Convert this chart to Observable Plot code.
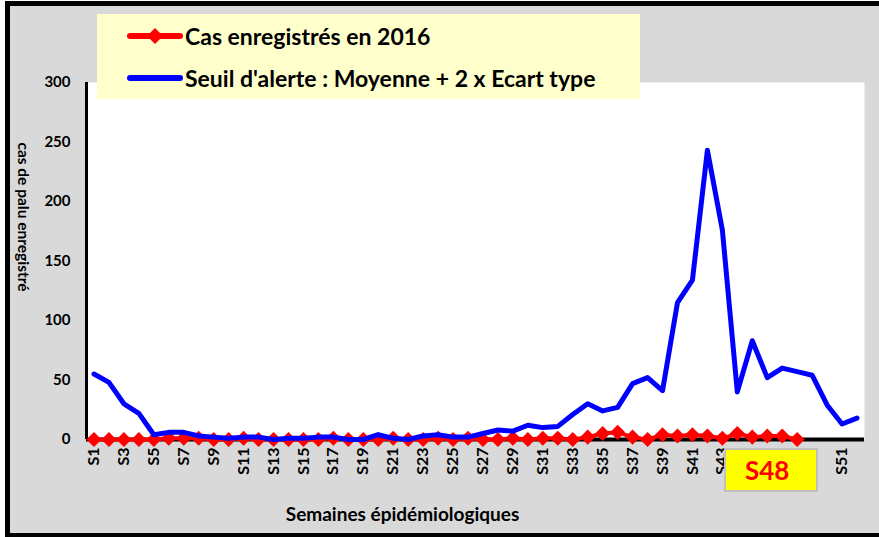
<!DOCTYPE html>
<html>
<head>
<meta charset="utf-8">
<script src="https://cdn.jsdelivr.net/npm/d3@7"></script>
<script src="https://cdn.jsdelivr.net/npm/@observablehq/plot@0.6"></script>
<style>
  html, body { margin: 0; padding: 0; background: #ffffff; overflow: hidden; }
  #wrap { position: relative; width: 879px; height: 537px; font-family: Lato, "Open Sans", sans-serif; }
  #wrap svg text { font-weight: bold; }
  .bd { position: absolute; background: #000; }
  #legend { position: absolute; left: 97px; top: 14px; width: 543px; height: 85px; background: #ffffcc; }
  #legend .item { position: absolute; left: 30px; height: 30px; display: flex; align-items: center; font-weight: bold; font-size: 23px; color: #000; white-space: nowrap; }
  #legend svg { margin-right: 2px; }
  #s48 { position: absolute; left: 724px; top: 448px; width: 71px; height: 40px; padding-left: 19px; background: #ffff00; border: 2px solid #bfbfbf; color: #ff0000; font-weight: bold; font-size: 26px; display: flex; align-items: center; justify-content: flex-start; box-sizing: content-box; }
</style>
</head>
<body>
<div id="wrap"></div>
<script>
// ---- data ----
const weeks = ["S1","S2","S3","S4","S5","S6","S7","S8","S9","S10","S11","S12","S13","S14","S15","S16","S17","S18","S19","S20","S21","S22","S23","S24","S25","S26","S27","S28","S29","S30","S31","S32","S33","S34","S35","S36","S37","S38","S39","S40","S41","S42","S43","S44","S45","S46","S47","S48","S49","S50","S51","S52"];
const cas2016 = [0,0,0,0,0,1,1,1,0,0,1,0,0,0,0,0,1,0,0,0,1,0,0,1,0,1,0,0,1,0,1,1,0,2,5,6,2,0,4,3,4,3,1,5,2,3,3,0];
const seuil = [55,48,30,22,4,6,6,3,2,1,2,2,0,1,1,2,2,0,0,4,1,0,3,4,2,2,5,8,7,12,10,11,21,30,24,27,47,52,41,115,134,243,176,40,83,52,60,57,54,29,13,18];
const yTicks = [0,50,100,150,200,250,300];
const seriesNames = ["Cas enregistrés en 2016", "Seuil d'alerte : Moyenne + 2 x Ecart type"];
const yTitle = "cas de palu enregistré";
const xTitle = "Semaines épidémiologiques";
const currentWeek = "S48";
const colors = ["#ff0000", "#0000ff"];

const redRows = cas2016.map((v, i) => ({week: i + 1, value: v}));
const blueRows = seuil.map((v, i) => ({week: i + 1, value: v}));
const xTicks = weeks.map((w, i) => i + 1).filter(n => n % 2 === 1);
const xDomain = [0.5, weeks.length + 0.5];

const chart = Plot.plot({
  width: 879,
  height: 537,
  marginLeft: 86,
  marginRight: 15,
  marginTop: 82,
  marginBottom: 98,
  style: {background: "#d9d9d9", fontFamily: "Lato, 'Open Sans', sans-serif", overflow: "visible"},
  x: {type: "linear", domain: xDomain},
  y: {domain: [0, 300]},
  marks: [
    Plot.frame({fill: "white", stroke: null}),
    Plot.axisY({ticks: yTicks, tickSize: 0, tickPadding: 16, fontSize: 15, fontWeight: "bold", fill: "#000", label: null}),
    Plot.axisX({ticks: xTicks, tickFormat: d => weeks[d - 1], tickRotate: -90, tickSize: 0, tickPadding: 8, fontSize: 16, fontWeight: "bold", fill: "#000", label: null}),
    Plot.ruleX([xDomain[0]], {stroke: "#000", strokeWidth: 3}),
    Plot.ruleY([0], {stroke: "#000", strokeWidth: 4}),
    Plot.line(redRows, {x: "week", y: "value", stroke: colors[0], strokeWidth: 4}),
    Plot.dot(redRows, {x: "week", y: "value", symbol: "diamond2", r: 6.8, fill: colors[0], stroke: null}),
    Plot.line(blueRows, {x: "week", y: "value", stroke: colors[1], strokeWidth: 5, strokeLinejoin: "round", strokeLinecap: "round"}),
    Plot.text([yTitle], {frameAnchor: "left", textAnchor: "middle", dx: -64, dy: -44, rotate: 90, fontSize: 15.5, fontWeight: "bold", fill: "#000"}),
    Plot.text([xTitle], {frameAnchor: "bottom-left", textAnchor: "middle", dx: 316, dy: 81, fontSize: 19, fontWeight: "bold", fill: "#000"})
  ]
});

const wrap = document.getElementById("wrap");
chart.style.position = "absolute";
chart.style.left = "0px";
chart.style.top = "0px";
wrap.appendChild(chart);

// frame borders
[["5px","1px","5px","536px"],["5px","1px","874px","5px"],["5px","533px","874px","4px"]].forEach(([l,t,w,h]) => {
  const d = document.createElement("div");
  d.className = "bd";
  Object.assign(d.style, {left: l, top: t, width: w, height: h});
  wrap.appendChild(d);
});
const white = document.createElement("div");
Object.assign(white.style, {position: "absolute", left: "0px", top: "0px", width: "5px", height: "537px", background: "#fff"});
wrap.appendChild(white);
const whiteTop = document.createElement("div");
Object.assign(whiteTop.style, {position: "absolute", left: "0px", top: "0px", width: "879px", height: "1px", background: "#fff"});
wrap.appendChild(whiteTop);

// legend
const legend = document.createElement("div");
legend.id = "legend";
const swatch = (c, diamond) => `<svg width="56" height="20" viewBox="0 0 56 20"><line x1="3" y1="10" x2="53" y2="10" stroke="${c}" stroke-width="6" stroke-linecap="round"/>${diamond ? `<path d="M28 2 L36 10 L28 18 L20 10 Z" fill="${c}"/>` : ""}</svg>`;
legend.innerHTML =
  `<div class="item" style="top:7px">${swatch(colors[0], true)}${seriesNames[0]}</div>` +
  `<div class="item" style="top:49px">${swatch(colors[1], false)}${seriesNames[1]}</div>`;
wrap.appendChild(legend);

// current week marker
const box = document.createElement("div");
box.id = "s48";
box.textContent = currentWeek;
wrap.appendChild(box);
</script>
</body>
</html>
